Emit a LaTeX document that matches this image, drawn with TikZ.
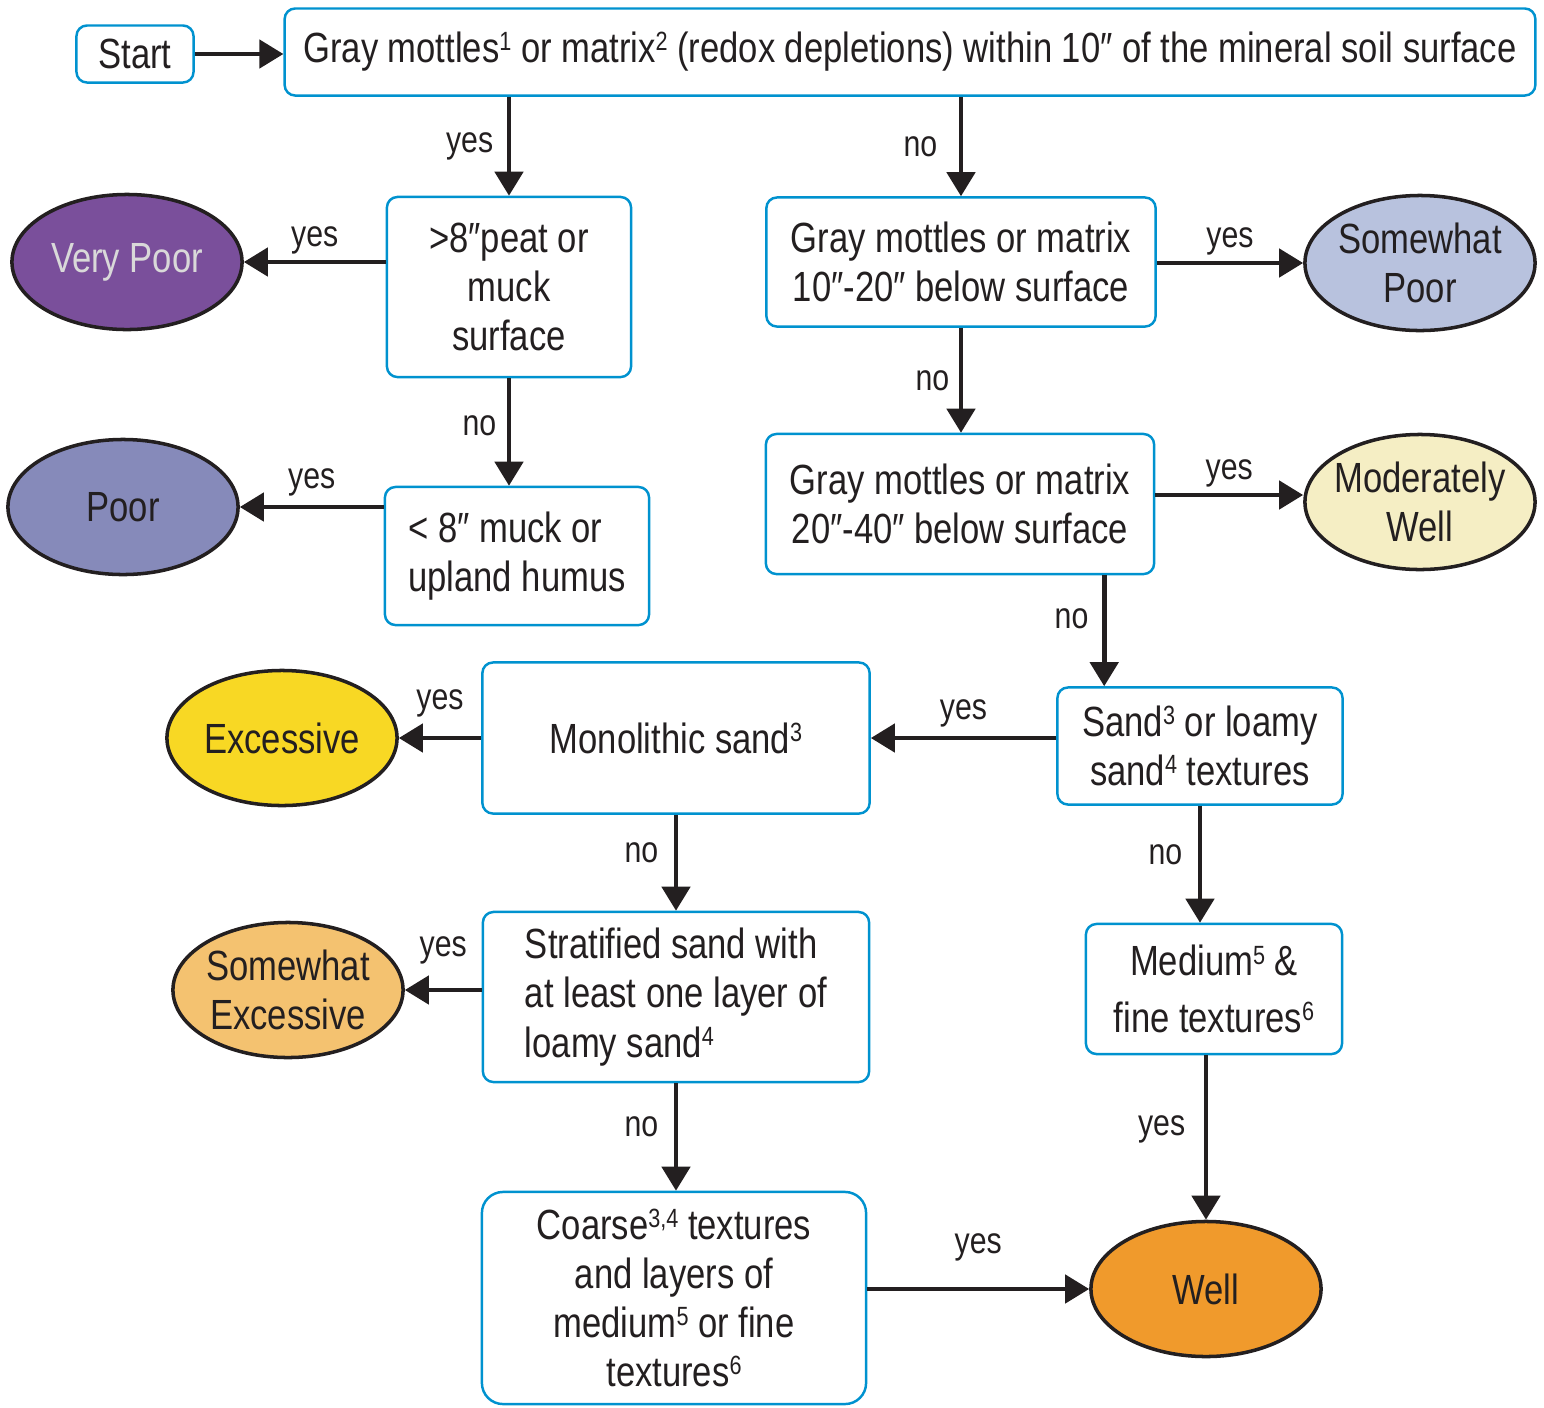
\documentclass[tikz,border=0pt]{standalone}
\usepackage{fontspec}
\setmainfont[FakeStretch=0.82]{Liberation Sans}
\usetikzlibrary{arrows.meta,positioning,shapes.geometric}
\definecolor{boxblue}{RGB}{0,146,207}
\definecolor{inkdark}{RGB}{35,31,32}
\definecolor{vpoor}{RGB}{122,79,155}
\definecolor{poor}{RGB}{134,138,186}
\definecolor{spoor}{RGB}{184,194,222}
\definecolor{modwell}{RGB}{245,238,196}
\definecolor{excess}{RGB}{248,216,36}
\definecolor{sexcess}{RGB}{244,194,112}
\definecolor{well}{RGB}{240,154,44}
\newcommand{\sq}[1]{\raisebox{3.4pt}{\fontsize{7.5}{8}\selectfont #1}}

\begin{document}
\begin{tikzpicture}[x=0.01cm, y=-0.01cm,
  box/.style={draw=boxblue, line width=0.7pt, fill=white, rounded corners=3pt, align=center, inner sep=0pt, text=inkdark, font=\fontsize{12}{14}\selectfont},
  grade/.style={ellipse, draw=inkdark, line width=1pt, minimum width=2.3cm, minimum height=1.35cm, inner sep=-2mm, align=center, text=inkdark, font=\fontsize{12}{14}\selectfont},
  arrow/.style={-{Triangle[length=2.4mm,width=2.8mm]}, line width=1.3pt, draw=inkdark},
  lbl/.style={font=\fontsize{10.5}{12}\selectfont, text=inkdark, inner sep=1pt}
]
\useasboundingbox (0,0) rectangle (1544,1408);

% decision boxes
\node[box, minimum width=1.17cm, minimum height=0.57cm] (start) at (135,54) {Start};
\node[box, minimum width=12.5cm, minimum height=0.87cm] (top) at (910,52) {Gray mottles\sq{1} or matrix\sq{2} (redox depletions) within 10″ of the mineral soil surface};
\node[box, minimum width=2.44cm, minimum height=1.8cm] (peat) at (509,287) {>8″peat or\\muck\\surface};
\node[box, minimum width=2.64cm, minimum height=1.38cm, align=left] (muck) at (517,556) {< 8″ muck or\\upland humus};
\node[box, minimum width=3.89cm, minimum height=1.29cm] (gmten) at (961,262) {Gray mottles or matrix\\10″-20″ below surface};
\node[box, minimum width=3.88cm, minimum height=1.4cm] (gmtwenty) at (960,504) {Gray mottles or matrix\\20″-40″ below surface};
\node[box, minimum width=2.85cm, minimum height=1.17cm] (sand) at (1200,746) {Sand\sq{3} or loamy\\sand\sq{4} textures};
\node[box, minimum width=3.87cm, minimum height=1.51cm] (mono) at (676,738) {Monolithic sand\sq{3}};
\node[box, minimum width=3.86cm, minimum height=1.7cm, align=left] (strat) at (676,997) {Stratified sand with\\at least one layer of\\loamy sand\sq{4}};
\node[box, minimum width=2.56cm, minimum height=1.3cm] (medium) at (1214,989) {Medium\sq{5} \&\\[2pt]fine textures\sq{6}};
\node[box, minimum width=3.84cm, minimum height=2.12cm, rounded corners=6pt] (coarse) at (674,1298) {Coarse\sq{3,4} textures\\and layers of\\medium\sq{5} or fine\\textures\sq{6}};

% drainage classes
\node[grade, fill=vpoor, text={black!15}] (vp) at (127,262) {Very Poor};
\node[grade, fill=poor] (pr) at (123,507) {Poor};
\node[grade, fill=spoor] (sp) at (1420,263) {Somewhat\\Poor};
\node[grade, fill=modwell] (mw) at (1420,502) {Moderately\\Well};
\node[grade, fill=excess] (ex) at (282,738) {Excessive};
\node[grade, fill=sexcess] (se) at (288,990) {Somewhat\\Excessive};
\node[grade, fill=well] (wl) at (1206,1289) {Well};

\coordinate (sandin) at ([xshift=0.48cm]sand.north west);

% connectors
\draw[arrow] (start) -- (top.west |- start);
\draw[arrow] (peat.north |- top.south) -- node[lbl, left=0.1cm] {yes} (peat.north);
\draw[arrow] (gmten.north |- top.south) -- node[lbl, left=0.18cm] {no} (gmten.north);
\draw[arrow] (peat.west |- vp.east) -- node[lbl, above=0.02cm] {yes} (vp.east);
\draw[arrow] (peat.south) -- node[lbl, left=0.07cm, yshift=0.06cm] {no} (peat.south |- muck.north);
\draw[arrow] (muck.west |- pr.east) -- node[lbl, above=0.05cm] {yes} (pr.east);
\draw[arrow] (gmten.east |- sp.west) -- node[lbl, above=0.02cm] {yes} (sp.west);
\draw[arrow] (gmten.south) -- node[lbl, left=0.06cm] {no} (gmten.south |- gmtwenty.north);
\draw[arrow] (gmtwenty.east |- 0,495) -- node[lbl, above=0.02cm] {yes} (mw.west |- 0,495);
\draw[arrow] (sandin |- gmtwenty.south) -- node[lbl, left=0.1cm, yshift=0.12cm] {no} (sandin);
\draw[arrow] (sand.west |- mono.east) -- node[lbl, above=0.05cm] {yes} (mono.east);
\draw[arrow] (mono.west |- ex.east) -- node[lbl, above=0.15cm] {yes} (ex.east);
\draw[arrow] (mono.south) -- node[lbl, left=0.12cm, yshift=0.1cm] {no} (mono.south |- strat.north);
\draw[arrow] (sand.south) -- node[lbl, left=0.12cm, yshift=0.1cm] {no} (sand.south |- medium.north);
\draw[arrow] (strat.west |- se.east) -- node[lbl, above=0.2cm] {yes} (se.east);
\draw[arrow] (strat.south) -- node[lbl, left=0.12cm, yshift=0.1cm] {no} (strat.south |- coarse.north);
\draw[arrow] (wl.north |- medium.south) -- node[lbl, left=0.15cm, yshift=0.08cm] {yes} (wl.north);
\draw[arrow] (coarse.east |- wl.west) -- node[lbl, above=0.22cm] {yes} (wl.west);
\end{tikzpicture}
\end{document}
